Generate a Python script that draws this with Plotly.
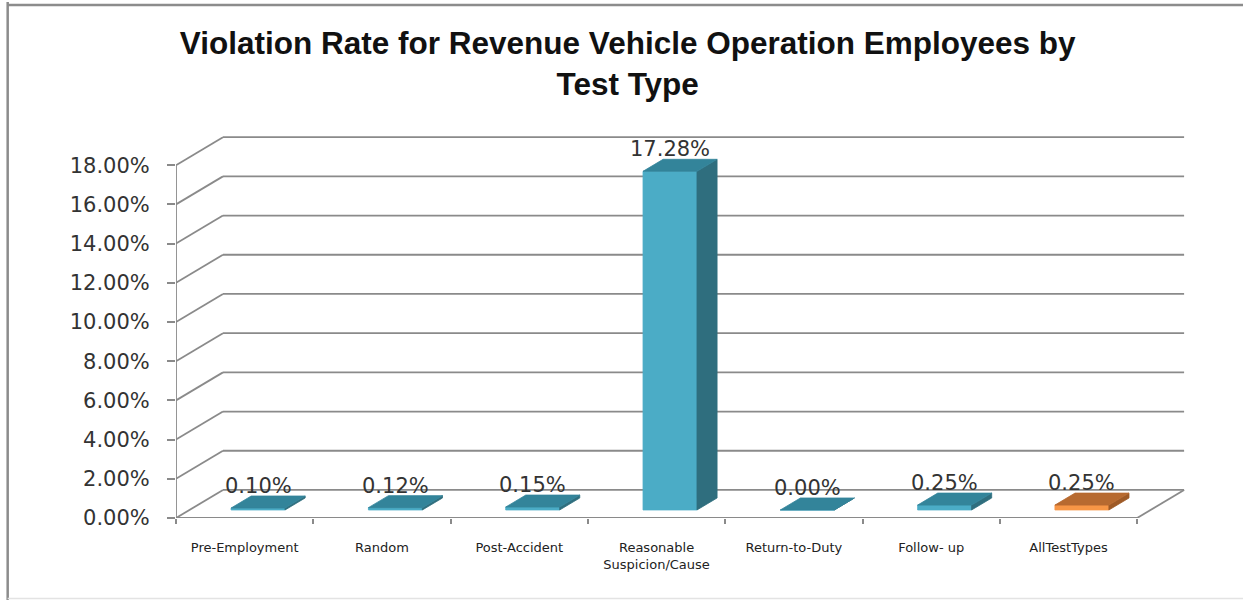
import plotly.graph_objects as go

# ---- data ----
categories = ["Pre-Employment", "Random", "Post-Accident", "Reasonable<br>Suspicion/Cause",
              "Return-to-Duty", "Follow- up", "AllTestTypes"]
rates = [0.10, 0.12, 0.15, 17.28, 0.00, 0.25, 0.25]
value_labels = ["0.10%", "0.12%", "0.15%", "17.28%", "0.00%", "0.25%", "0.25%"]
y_ticks = [0, 2, 4, 6, 8, 10, 12, 14, 16, 18]
y_tick_text = ["0.00%", "2.00%", "4.00%", "6.00%", "8.00%", "10.00%",
               "12.00%", "14.00%", "16.00%", "18.00%"]

# ---- oblique 3D projection settings (in axis units) ----
DEPTH_X = 0.342      # horizontal shift of the back wall, in categories
DEPTH_Y = 1.43       # vertical shift of the back wall, in percent
D_FRONT, D_BACK = 0.286, 0.714   # depth band occupied by the bars
BAR_W = 0.393
Y_MAX = 18

TEAL = dict(front="#4BACC6", top="#33849A", side="#2F6E7E")
ORANGE = dict(front="#F79646", top="#B76A30", side="#9E5A27")
GRID = "#8A8A8A"


def proj(x, v, d):
    """Project a point (category x, value v, depth d in 0..1) onto the 2D axes."""
    return x + d * DEPTH_X, v + d * DEPTH_Y


def poly(points):
    xs, ys = zip(*points)
    return list(xs) + [xs[0]], list(ys) + [ys[0]]


fig = go.Figure()

# walls and gridlines
shapes = []
n = len(categories)
for v in y_ticks:
    x0, y0 = proj(0, v, 0)
    x1, y1 = proj(0, v, 1)
    x2, y2 = proj(n, v, 1)
    shapes.append(dict(type="line", x0=x0, y0=y0, x1=x1, y1=y1,
                       line=dict(color=GRID, width=1.8), layer="below"))
    shapes.append(dict(type="line", x0=x1, y0=y1, x1=x2, y1=y2,
                       line=dict(color=GRID, width=1.8), layer="below"))
# floor front edge, right edge and front vertical axis
fx0, fy0 = proj(0, 0, 0)
fx1, fy1 = proj(n, 0, 0)
bx1, by1 = proj(n, 0, 1)
shapes.append(dict(type="line", x0=fx0, y0=fy0, x1=fx1, y1=fy1,
                   line=dict(color=GRID, width=1.8)))
shapes.append(dict(type="line", x0=fx1, y0=fy1, x1=bx1, y1=by1,
                   line=dict(color=GRID, width=1.8)))
shapes.append(dict(type="line", x0=0, y0=0, x1=0, y1=Y_MAX,
                   line=dict(color=GRID, width=1.8)))

# bars (front, top and right side faces)
annotations = []
for i, (val, lab) in enumerate(zip(rates, value_labels)):
    pal = ORANGE if i == n - 1 else TEAL
    xl = i + 0.5 - BAR_W / 2
    xr = i + 0.5 + BAR_W / 2
    front = [proj(xl, 0, D_FRONT), proj(xr, 0, D_FRONT),
             proj(xr, val, D_FRONT), proj(xl, val, D_FRONT)]
    top = [proj(xl, val, D_FRONT), proj(xr, val, D_FRONT),
           proj(xr, val, D_BACK), proj(xl, val, D_BACK)]
    side = [proj(xr, 0, D_FRONT), proj(xr, 0, D_BACK),
            proj(xr, val, D_BACK), proj(xr, val, D_FRONT)]
    for face, col in ((front, pal["front"]), (side, pal["side"]), (top, pal["top"])):
        px, py = poly(face)
        fig.add_trace(go.Scatter(x=px, y=py, mode="lines", fill="toself",
                                 fillcolor=col, line=dict(color=col, width=0.8),
                                 hoverinfo="skip", showlegend=False))
    lx, _ = proj(i + 0.5, val, D_FRONT)
    _, ly = proj(i + 0.5, val, D_BACK)
    annotations.append(dict(x=lx, y=ly, text=lab, showarrow=False,
                            xanchor="center", yanchor="bottom", yshift=-4,
                            font=dict(family="DejaVu Sans", size=21, color="#333333")))

# chart frame (top and left border, faint bottom edge)
shapes += [
    dict(type="line", xref="paper", yref="paper", x0=-0.166, y0=1.3222, x1=1.06, y1=1.3222,
         line=dict(color="#8C8C8C", width=2.5)),
    dict(type="line", xref="paper", yref="paper", x0=-0.166, y0=1.33, x1=-0.166, y1=-0.215,
         line=dict(color="#8C8C8C", width=2.5)),
    dict(type="line", xref="paper", yref="paper", x0=-0.166, y0=-0.2075, x1=1.06, y1=-0.2075,
         line=dict(color="#E3E3E3", width=1.5)),
]

fig.update_layout(
    width=1243, height=600,
    margin=dict(l=176, r=53, t=130, b=82),
    paper_bgcolor="white", plot_bgcolor="white",
    showlegend=False,
    title=dict(text="Violation Rate for Revenue Vehicle Operation Employees by<br>Test Type",
               x=0.505, xanchor="center", y=0.91, yanchor="top",
               font=dict(family="Liberation Sans", size=31.5, color="#111111", weight="bold")),
    xaxis=dict(range=[0, n + DEPTH_X + 0.043], showgrid=False, zeroline=False,
               showline=False,
               tickmode="array", tickvals=[i + 0.5 for i in range(n)], ticktext=categories,
               ticks="", ticklabelstandoff=20,
               tickfont=dict(family="DejaVu Sans", size=13, color="#222222"),
               minor=dict(tickmode="array", tickvals=list(range(n + 1)), ticks="outside",
                          ticklen=5, tickwidth=1.5, tickcolor=GRID, showgrid=False)),
    yaxis=dict(range=[0, 19.796], showgrid=False, zeroline=False, showline=False,
               tickmode="array", tickvals=y_ticks, ticktext=y_tick_text,
               ticks="outside", ticklen=8, tickwidth=1.5, tickcolor=GRID,
               ticklabelstandoff=13,
               tickfont=dict(family="DejaVu Sans", size=21, color="#333333")),
    shapes=shapes,
    annotations=annotations,
)

fig.write_html("out.html")
